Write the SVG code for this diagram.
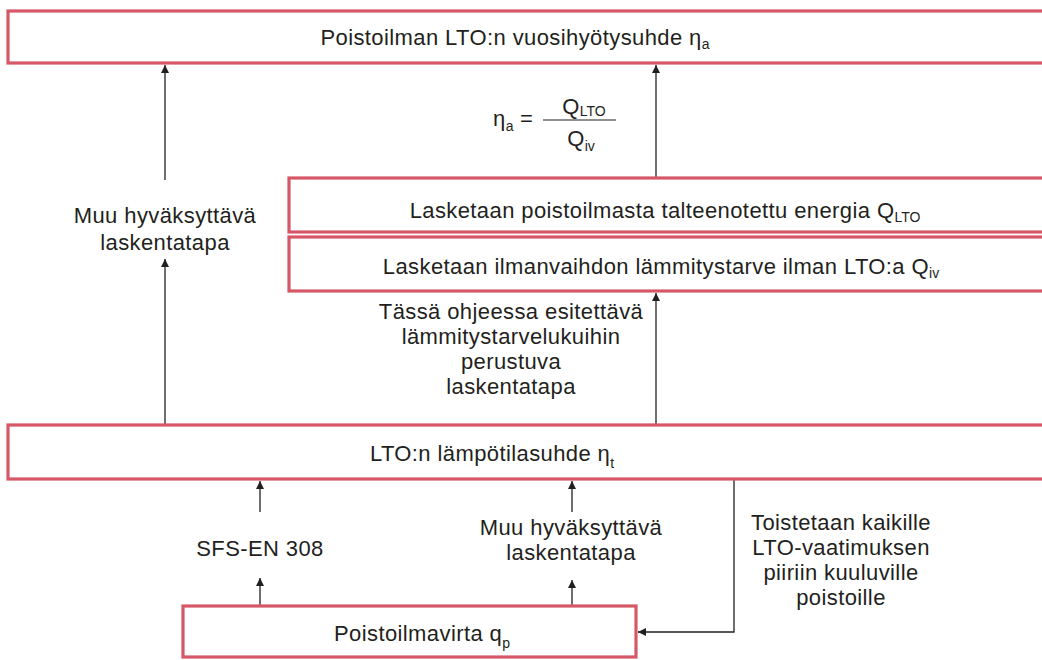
<svg xmlns="http://www.w3.org/2000/svg" width="1042" height="660" viewBox="0 0 1042 660">
<style>
.box{fill:#fff;stroke:#d65766;stroke-width:3.2}
.t{font-family:"Liberation Sans",Arial,sans-serif;font-size:22px;letter-spacing:0.4px;fill:#231f20;text-anchor:middle}
.s{font-size:14px;letter-spacing:0}
.c{fill:none;stroke:#231f20;stroke-width:1.3}
</style>
<defs>
<marker id="ah" viewBox="0 0 10 10" refX="10" refY="5" markerWidth="9" markerHeight="8" markerUnits="userSpaceOnUse" orient="auto">
<path d="M0,0 L10,5 L0,10 Z" fill="#231f20"/>
</marker>
</defs>
<rect width="1042" height="660" fill="#fff"/>
<g id="connectors">
<line class="c" x1="165" y1="180" x2="165" y2="65" marker-end="url(#ah)"/>
<line class="c" x1="656" y1="178" x2="656" y2="65" marker-end="url(#ah)"/>
<line class="c" x1="165" y1="425" x2="165" y2="259" marker-end="url(#ah)"/>
<line class="c" x1="656" y1="425" x2="656" y2="293" marker-end="url(#ah)"/>
<line class="c" x1="260" y1="512" x2="260" y2="481" marker-end="url(#ah)"/>
<line class="c" x1="260" y1="606" x2="260" y2="578" marker-end="url(#ah)"/>
<line class="c" x1="572" y1="512" x2="572" y2="481" marker-end="url(#ah)"/>
<line class="c" x1="572" y1="606" x2="572" y2="580" marker-end="url(#ah)"/>
<polyline class="c" points="734,479 734,632 638,632" marker-end="url(#ah)"/>
</g>
<g id="n1">
<rect class="box" x="8" y="11" width="1040" height="52"/>
<text class="t" x="515" y="45">Poistoilman LTO:n vuosihyötysuhde η<tspan class="s" dy="4">a</tspan></text>
</g>
<g id="formula">
<text class="t" x="493" y="126" style="text-anchor:start">η<tspan class="s" dy="5">a</tspan><tspan dy="-5"> =</tspan></text>
<line x1="543" y1="120" x2="616" y2="120" stroke="#231f20" stroke-width="1.2"/>
<text class="t" x="584" y="114">Q<tspan class="s" dy="2">LTO</tspan></text>
<text class="t" x="581" y="146">Q<tspan class="s" dy="5">iv</tspan></text>
</g>
<g id="n2">
<text class="t" x="165" y="223">Muu hyväksyttävä</text>
<text class="t" x="165" y="250">laskentatapa</text>
</g>
<g id="n3">
<rect class="box" x="289" y="178" width="760" height="54"/>
<text class="t" x="665" y="218">Lasketaan poistoilmasta talteenotettu energia Q<tspan class="s" dy="4">LTO</tspan></text>
</g>
<g id="n4">
<rect class="box" x="289" y="237" width="760" height="54"/>
<text class="t" x="661" y="274">Lasketaan ilmanvaihdon lämmitystarve ilman LTO:a Q<tspan class="s" dy="4">iv</tspan></text>
</g>
<g id="n5">
<text class="t" x="511" y="319">Tässä ohjeessa esitettävä</text>
<text class="t" x="511" y="344">lämmitystarvelukuihin</text>
<text class="t" x="511" y="369">perustuva</text>
<text class="t" x="511" y="394">laskentatapa</text>
</g>
<g id="n6">
<rect class="box" x="8" y="425" width="1040" height="54"/>
<text class="t" x="492" y="461">LTO:n lämpötilasuhde η<tspan class="s" dy="7">t</tspan></text>
</g>
<g id="n7">
<text class="t" x="260" y="556">SFS-EN 308</text>
</g>
<g id="n8">
<text class="t" x="571" y="535">Muu hyväksyttävä</text>
<text class="t" x="571" y="560">laskentatapa</text>
</g>
<g id="n9">
<text class="t" x="841" y="530">Toistetaan kaikille</text>
<text class="t" x="841" y="555">LTO-vaatimuksen</text>
<text class="t" x="841" y="580">piiriin kuuluville</text>
<text class="t" x="841" y="605">poistoille</text>
</g>
<g id="n10">
<rect class="box" x="183" y="606" width="453" height="51"/>
<text class="t" x="422" y="641">Poistoilmavirta q<tspan class="s" dy="7">p</tspan></text>
</g>
</svg>
